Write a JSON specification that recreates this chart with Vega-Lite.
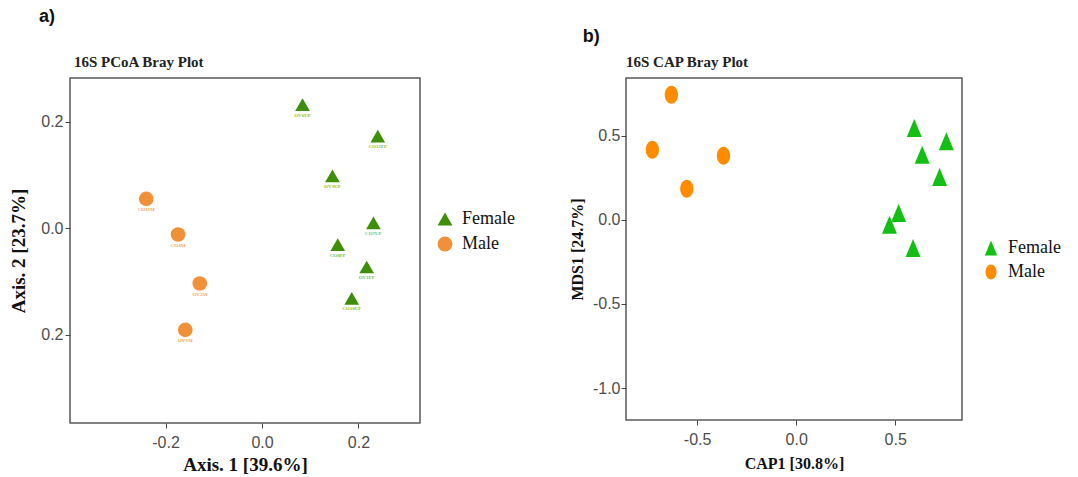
{
  "$schema": "https://vega.github.io/schema/vega-lite/v6.json",
  "background": "white",
  "padding": {"left": 9, "top": 8, "right": 2, "bottom": 2},
  "spacing": 52,
  "config": {
    "view": {"stroke": "#5a5a5a", "strokeWidth": 1.5},
    "axis": {
      "grid": false,
      "domain": false,
      "tickColor": "#444",
      "tickSize": 5,
      "labelFont": "Liberation Sans",
      "labelFontSize": 16,
      "labelColor": "#4d4d4d",
      "titleFont": "Liberation Serif",
      "titleFontWeight": "bold",
      "titleColor": "#111"
    }
  },
  "datasets": {
    "pcoa": [
      {"x": 0.084, "y": 0.232, "sex": "Female", "label": "OV6UF"},
      {"x": 0.240, "y": 0.173, "sex": "Female", "label": "CO12FF"},
      {"x": 0.146, "y": 0.098, "sex": "Female", "label": "OV3UF"},
      {"x": 0.231, "y": 0.010, "sex": "Female", "label": "CO7UF"},
      {"x": 0.157, "y": -0.031, "sex": "Female", "label": "CO8FF"},
      {"x": 0.217, "y": -0.073, "sex": "Female", "label": "OV1FF"},
      {"x": 0.186, "y": -0.132, "sex": "Female", "label": "CO10UF"},
      {"x": -0.240, "y": 0.055, "sex": "Male", "label": "CO11M"},
      {"x": -0.174, "y": -0.012, "sex": "Male", "label": "CO4M"},
      {"x": -0.129, "y": -0.104, "sex": "Male", "label": "OV2M"},
      {"x": -0.159, "y": -0.191, "sex": "Male", "label": "OV1M"}
    ],
    "cap": [
      {"x": -0.630, "y": 0.744, "sex": "Male"},
      {"x": -0.726, "y": 0.417, "sex": "Male"},
      {"x": -0.367, "y": 0.381, "sex": "Male"},
      {"x": -0.552, "y": 0.185, "sex": "Male"},
      {"x": 0.596, "y": 0.546, "sex": "Female"},
      {"x": 0.758, "y": 0.467, "sex": "Female"},
      {"x": 0.636, "y": 0.387, "sex": "Female"},
      {"x": 0.724, "y": 0.254, "sex": "Female"},
      {"x": 0.517, "y": 0.040, "sex": "Female"},
      {"x": 0.471, "y": -0.030, "sex": "Female"},
      {"x": 0.590, "y": -0.168, "sex": "Female"}
    ]
  },
  "hconcat": [
    {
      "title": {"text": "a)", "anchor": "start", "frame": "bounds", "font": "Liberation Sans", "fontSize": 18, "fontWeight": "bold", "color": "#111", "dx": 30, "offset": 28},
      "vconcat": [
        {
          "width": 350,
          "height": 345,
          "title": {"text": "16S PCoA Bray Plot", "anchor": "start", "frame": "group", "font": "Liberation Serif", "fontSize": 15, "fontWeight": "bold", "color": "#222", "offset": 8, "dx": 4},
          "data": {"name": "pcoa"},
          "encoding": {
            "x": {"field": "x", "type": "quantitative", "scale": {"domain": [-0.398, 0.3275], "nice": false, "zero": false}, "axis": {"values": [-0.2, 0, 0.2], "labelExpr": "(datum.value < 0 ? '-' : '') + format(abs(datum.value), '.1f')", "labelPadding": 6, "title": "Axis. 1 [39.6%]", "titleFontSize": 19, "titlePadding": 5}},
            "y": {"field": "y", "type": "quantitative", "scale": {"domain": [-0.366, 0.282], "nice": false, "zero": false}, "axis": {"values": [-0.2, 0, 0.2], "labelExpr": "format(abs(datum.value), '.1f')", "labelPadding": 2, "title": "Axis. 2 [23.7%]", "titleFontSize": 19, "titlePadding": 12}}
          },
          "layer": [
            {
              "mark": {"type": "point", "filled": true, "opacity": 1, "size": 215},
              "encoding": {
                "color": {"field": "sex", "type": "nominal", "scale": {"domain": ["Female", "Male"], "range": ["#3e8e0a", "#f0913a"]},
                  "legend": {"orient": "none", "legendX": 366, "legendY": 132, "title": null, "symbolSize": 220, "labelFont": "Liberation Serif", "labelFontSize": 18, "labelColor": "#111", "labelOffset": 8, "rowPadding": 7, "padding": 0,
                    "encode": {"symbols": {"update": {"fill": {"signal": "datum.value === 'Female' ? '#22ab4f' : '#ee7d31'"}, "shape": {"signal": "datum.value === 'Female' ? 'triangle-up' : 'circle'"}, "opacity": {"value": 1}, "strokeWidth": {"value": 0}}}}}},
                "shape": {"field": "sex", "type": "nominal", "scale": {"domain": ["Female", "Male"], "range": ["triangle-up", "circle"]}, "legend": null}
              }
            },
            {
              "mark": {"type": "text", "font": "Liberation Serif", "fontWeight": "bold", "fontSize": 5, "dy": 10},
              "encoding": {
                "text": {"field": "label"},
                "color": {"condition": {"test": "datum.sex === 'Female'", "value": "#7cc144"}, "value": "#f5a55c"}
              }
            }
          ],
          "resolve": {"scale": {"color": "independent", "shape": "independent"}}
        }
      ],
      "resolve": {"scale": {"color": "independent", "shape": "independent"}, "legend": {"color": "independent", "shape": "independent"}}
    },
    {
      "title": {"text": "b)", "anchor": "start", "frame": "bounds", "font": "Liberation Sans", "fontSize": 18, "fontWeight": "bold", "color": "#111", "dx": 14, "dy": 5, "offset": 13},
      "vconcat": [
        {
          "width": 336,
          "height": 342,
          "title": {"text": "16S CAP Bray Plot", "anchor": "start", "frame": "group", "font": "Liberation Serif", "fontSize": 15, "fontWeight": "bold", "color": "#222", "offset": 8, "dx": 0},
          "data": {"name": "cap"},
          "mark": {"type": "point", "filled": true, "opacity": 1, "size": 324},
          "encoding": {
            "x": {"field": "x", "type": "quantitative", "scale": {"domain": [-0.859, 0.837], "nice": false, "zero": false}, "axis": {"values": [-0.5, 0, 0.5], "labelExpr": "(datum.value < 0 ? '-' : '') + format(abs(datum.value), '.1f')", "labelPadding": 6, "title": "CAP1 [30.8%]", "titleFontSize": 16, "titlePadding": 8}},
            "y": {"field": "y", "type": "quantitative", "scale": {"domain": [-1.19, 0.843], "nice": false, "zero": false}, "axis": {"values": [-1, -0.5, 0, 0.5], "labelExpr": "(datum.value < 0 ? '-' : '') + format(abs(datum.value), '.1f')", "labelPadding": 1, "title": "MDS1 [24.7%]", "titleFontSize": 16, "titlePadding": 7}},
            "color": {"field": "sex", "type": "nominal", "scale": {"domain": ["Female", "Male"], "range": ["#12bf12", "#ff8c00"]},
              "legend": {"orient": "none", "legendX": 356, "legendY": 161, "title": null, "symbolSize": 220, "labelFont": "Liberation Serif", "labelFontSize": 18, "labelColor": "#111", "labelOffset": 8, "rowPadding": 6, "padding": 0,
                "encode": {"symbols": {"update": {"fill": {"signal": "datum.value === 'Female' ? '#33cc33' : '#ee7d31'"}, "shape": {"signal": "datum.value === 'Female' ? 'triangle-up' : 'circle'"}, "opacity": {"value": 1}, "strokeWidth": {"value": 0}}}}}},
            "shape": {"field": "sex", "type": "nominal", "scale": {"domain": ["Female", "Male"], "range": ["M0,-1L-0.83,1L0.83,1Z", "M-0.74,0A0.74,1,0,1,1,0.74,0A0.74,1,0,1,1,-0.74,0Z"]}, "legend": null}
          }
        }
      ],
      "resolve": {"scale": {"color": "independent", "shape": "independent"}, "legend": {"color": "independent", "shape": "independent"}}
    }
  ],
  "resolve": {"scale": {"color": "independent", "shape": "independent"}, "legend": {"color": "independent", "shape": "independent"}}
}
